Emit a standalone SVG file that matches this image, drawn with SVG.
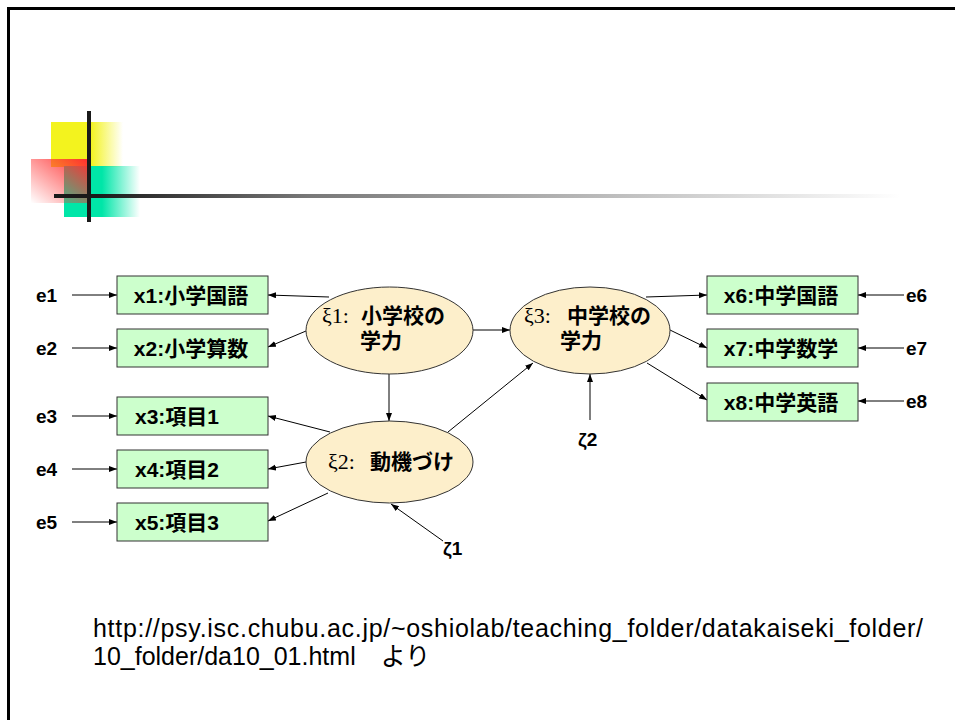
<svg xmlns="http://www.w3.org/2000/svg" width="955" height="720" viewBox="0 0 955 720">
<defs>
<style>
.frame{stroke:#000;stroke-width:3;fill:none}
.box{fill:#CCFFCC;stroke:#333;stroke-width:1}
.ell{fill:#FDEFCB;stroke:#333;stroke-width:1}
.t{font-family:"Liberation Sans","Noto Sans CJK JP",sans-serif;font-weight:bold;font-size:21px;fill:#000}
.lbl{font-family:"Liberation Sans","Noto Sans CJK JP",sans-serif;font-weight:bold;font-size:19px;fill:#000}
.gk{font-family:"Liberation Serif","DejaVu Serif",serif;font-weight:normal;font-size:22px}
.url{font-family:"Liberation Sans","Noto Sans CJK JP",sans-serif;font-size:25px;fill:#000}
.c{stroke:#000;stroke-width:1;fill:none;marker-end:url(#ah)}
</style>
<marker id="ah" markerWidth="9" markerHeight="7" refX="8" refY="3" orient="auto" markerUnits="userSpaceOnUse">
<path d="M0,0 L8,3 L0,6 z" fill="#000"/>
</marker>
<linearGradient id="gy" x1="0" y1="0" x2="1" y2="0">
<stop offset="0" stop-color="#F3F31E"/><stop offset="0.55" stop-color="#F3F31E"/><stop offset="1" stop-color="#F3F31E" stop-opacity="0"/>
</linearGradient>
<linearGradient id="gg" x1="0" y1="0" x2="1" y2="0">
<stop offset="0" stop-color="#00E6A8"/><stop offset="0.5" stop-color="#00E6A8"/><stop offset="1" stop-color="#00E6A8" stop-opacity="0"/>
</linearGradient>
<linearGradient id="gr" x1="1" y1="0" x2="0" y2="1">
<stop offset="0" stop-color="#FF3030"/><stop offset="1" stop-color="#FF3030" stop-opacity="0"/>
</linearGradient>
<linearGradient id="gl" x1="54" y1="0" x2="900" y2="0" gradientUnits="userSpaceOnUse">
<stop offset="0" stop-color="#1a1a1a"/><stop offset="0.05" stop-color="#1a1a1a"/><stop offset="0.3" stop-color="#787878"/><stop offset="1" stop-color="#ffffff"/>
</linearGradient>
</defs>
<rect width="955" height="720" fill="#fff"/>
<g id="frame">
<path class="frame" d="M8.5,720 V8.5 H955"/>
</g>
<g id="decoration">
<rect x="51" y="122" width="72" height="45" fill="url(#gy)"/>
<rect x="64" y="166" width="76" height="51" fill="url(#gg)"/>
<rect x="31" y="159" width="56" height="44" fill="url(#gr)"/>
<rect x="54" y="194" width="846" height="4" fill="url(#gl)"/>
<rect x="87" y="111" width="4" height="111" fill="#1a1a1a"/>
</g>
<g id="connectors">
<line class="c" x1="72" y1="295" x2="117" y2="295"/>
<line class="c" x1="72" y1="348" x2="117" y2="348"/>
<line class="c" x1="72" y1="416" x2="117" y2="416"/>
<line class="c" x1="72" y1="469" x2="117" y2="469"/>
<line class="c" x1="72" y1="522" x2="117" y2="522"/>
<line class="c" x1="904" y1="295" x2="858" y2="295"/>
<line class="c" x1="904" y1="348" x2="858" y2="348"/>
<line class="c" x1="904" y1="401" x2="858" y2="401"/>
<line class="c" x1="329" y1="297" x2="268" y2="295"/>
<line class="c" x1="306" y1="331" x2="268" y2="347"/>
<line class="c" x1="389" y1="374" x2="389" y2="421"/>
<line class="c" x1="473" y1="330" x2="510" y2="330"/>
<line class="c" x1="330" y1="432" x2="268" y2="416"/>
<line class="c" x1="306" y1="462" x2="268" y2="469"/>
<line class="c" x1="328" y1="493" x2="268" y2="521"/>
<line class="c" x1="448" y1="432" x2="533" y2="363"/>
<line class="c" x1="646" y1="297" x2="707" y2="295"/>
<line class="c" x1="670" y1="330" x2="707" y2="348"/>
<line class="c" x1="647" y1="363" x2="707" y2="400"/>
<line class="c" x1="590" y1="420" x2="590" y2="374"/>
<line class="c" x1="443" y1="541" x2="391" y2="504"/>
</g>
<g id="x1"><rect class="box" x="117" y="276" width="151" height="38"/><text class="t" x="191" y="303" text-anchor="middle">x1:小学国語</text></g>
<g id="x2"><rect class="box" x="117" y="329" width="151" height="38"/><text class="t" x="191" y="356" text-anchor="middle">x2:小学算数</text></g>
<g id="x3"><rect class="box" x="117" y="397" width="151" height="38"/><text class="t" x="135" y="424">x3:項目1</text></g>
<g id="x4"><rect class="box" x="117" y="450" width="151" height="38"/><text class="t" x="135" y="477">x4:項目2</text></g>
<g id="x5"><rect class="box" x="117" y="503" width="151" height="38"/><text class="t" x="135" y="530">x5:項目3</text></g>
<g id="x6"><rect class="box" x="707" y="276" width="151" height="38"/><text class="t" x="781" y="303" text-anchor="middle">x6:中学国語</text></g>
<g id="x7"><rect class="box" x="707" y="329" width="151" height="38"/><text class="t" x="781" y="356" text-anchor="middle">x7:中学数学</text></g>
<g id="x8"><rect class="box" x="707" y="383" width="151" height="38"/><text class="t" x="781" y="410" text-anchor="middle">x8:中学英語</text></g>
<g id="xi1"><ellipse class="ell" cx="389.5" cy="330.5" rx="83.5" ry="43.5"/>
<text class="t" y="323"><tspan class="gk" x="322">ξ1:</tspan><tspan x="361">小学校の</tspan></text>
<text class="t" x="360" y="348">学力</text></g>
<g id="xi2"><ellipse class="ell" cx="389.5" cy="462" rx="83.5" ry="41"/>
<text class="t" y="469"><tspan class="gk" x="328">ξ2:</tspan><tspan x="370">動機づけ</tspan></text></g>
<g id="xi3"><ellipse class="ell" cx="590" cy="330.5" rx="80" ry="43.5"/>
<text class="t" y="323"><tspan class="gk" x="524">ξ3:</tspan><tspan x="567">中学校の</tspan></text>
<text class="t" x="560" y="348">学力</text></g>
<g id="errors">
<text class="lbl" x="36" y="302">e1</text>
<text class="lbl" x="36" y="355">e2</text>
<text class="lbl" x="36" y="423">e3</text>
<text class="lbl" x="36" y="476">e4</text>
<text class="lbl" x="36" y="529">e5</text>
<text class="lbl" x="906" y="302">e6</text>
<text class="lbl" x="906" y="355">e7</text>
<text class="lbl" x="906" y="408">e8</text>
<text class="lbl" x="578" y="446">ζ2</text>
<text class="lbl" x="443" y="555">ζ1</text>
</g>
<g id="source">
<text class="url" x="93" y="637" textLength="830" lengthAdjust="spacing">http://psy.isc.chubu.ac.jp/~oshiolab/teaching_folder/datakaiseki_folder/</text>
<text class="url" x="93" y="665">10_folder/da10_01.html　より</text>
</g>
</svg>
